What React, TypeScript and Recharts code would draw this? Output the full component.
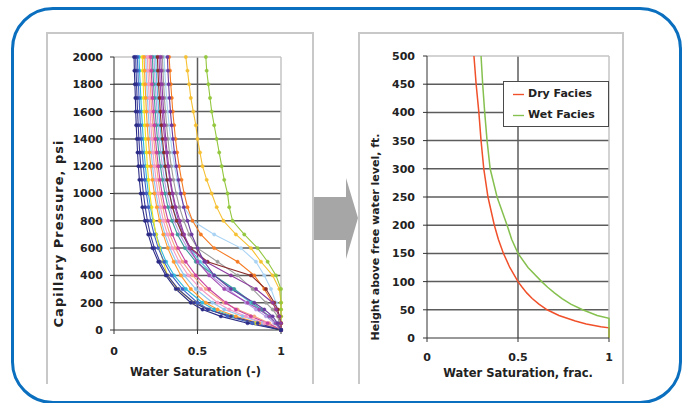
import React from "react";
import {
  LineChart,
  Line,
  XAxis,
  YAxis,
  CartesianGrid,
  ReferenceLine,
  Legend,
  Label,
} from "recharts";

const FONT = "'DejaVu Sans', 'Liberation Sans', sans-serif";
const INK = "#222222";
const GRID = "#5c5c5c";
const EDGE = "#c4c4c4";

// capillary pressure steps shared by every core plug (psi)
const PC_STEPS = [2000, 1900, 1800, 1700, 1600, 1500, 1400, 1300, 1200, 1100, 1000, 900, 800, 700, 600, 500, 400, 300, 200, 150, 100, 50, 0];

// water saturation of each plug at the steps above
const SW_CORE_01 = [0.12, 0.122, 0.125, 0.128, 0.13, 0.133, 0.137, 0.141, 0.146, 0.152, 0.16, 0.17, 0.185, 0.205, 0.23, 0.265, 0.31, 0.37, 0.46, 0.53, 0.64, 0.8, 1.0];
const SW_CORE_02 = [0.14, 0.143, 0.146, 0.15, 0.154, 0.158, 0.163, 0.169, 0.176, 0.184, 0.194, 0.206, 0.22, 0.24, 0.265, 0.3, 0.345, 0.41, 0.5, 0.57, 0.68, 0.83, 1.0];
const SW_CORE_03 = [0.15, 0.153, 0.157, 0.161, 0.165, 0.17, 0.175, 0.181, 0.188, 0.196, 0.206, 0.218, 0.233, 0.252, 0.278, 0.312, 0.36, 0.43, 0.53, 0.6, 0.71, 0.85, 1.0];
const SW_CORE_04 = [0.17, 0.172, 0.175, 0.178, 0.181, 0.185, 0.19, 0.195, 0.2, 0.207, 0.215, 0.225, 0.237, 0.252, 0.272, 0.295, 0.32, 0.38, 0.48, 0.57, 0.7, 0.85, 1.0];
const SW_CORE_05 = [0.18, 0.183, 0.186, 0.19, 0.194, 0.199, 0.205, 0.212, 0.22, 0.23, 0.242, 0.256, 0.273, 0.295, 0.322, 0.357, 0.4, 0.46, 0.55, 0.62, 0.73, 0.87, 1.0];
const SW_CORE_06 = [0.19, 0.193, 0.196, 0.2, 0.205, 0.21, 0.216, 0.223, 0.231, 0.24, 0.252, 0.266, 0.283, 0.305, 0.334, 0.372, 0.42, 0.49, 0.59, 0.66, 0.77, 0.89, 1.0];
const SW_CORE_07 = [0.2, 0.203, 0.207, 0.211, 0.216, 0.221, 0.227, 0.234, 0.242, 0.252, 0.264, 0.278, 0.296, 0.32, 0.35, 0.39, 0.445, 0.52, 0.62, 0.69, 0.79, 0.9, 1.0];
const SW_CORE_08 = [0.13, 0.132, 0.135, 0.138, 0.141, 0.145, 0.149, 0.154, 0.16, 0.167, 0.176, 0.187, 0.2, 0.218, 0.242, 0.275, 0.32, 0.385, 0.48, 0.56, 0.7, 0.86, 1.0];
const SW_CORE_09 = [0.22, 0.223, 0.227, 0.231, 0.236, 0.242, 0.248, 0.256, 0.265, 0.275, 0.288, 0.304, 0.324, 0.35, 0.384, 0.43, 0.49, 0.57, 0.67, 0.73, 0.82, 0.92, 1.0];
const SW_CORE_10 = [0.23, 0.233, 0.237, 0.242, 0.247, 0.253, 0.26, 0.268, 0.278, 0.29, 0.305, 0.323, 0.347, 0.38, 0.425, 0.49, 0.6, 0.72, 0.83, 0.88, 0.93, 0.97, 1.0];
const SW_CORE_11 = [0.24, 0.243, 0.247, 0.252, 0.258, 0.264, 0.271, 0.28, 0.29, 0.302, 0.317, 0.336, 0.36, 0.395, 0.44, 0.5, 0.58, 0.68, 0.79, 0.85, 0.91, 0.96, 1.0];
const SW_CORE_12 = [0.21, 0.213, 0.217, 0.221, 0.226, 0.232, 0.238, 0.246, 0.255, 0.265, 0.277, 0.292, 0.31, 0.335, 0.368, 0.41, 0.47, 0.55, 0.66, 0.74, 0.84, 0.93, 1.0];
const SW_CORE_13 = [0.26, 0.263, 0.267, 0.272, 0.277, 0.283, 0.29, 0.298, 0.307, 0.318, 0.332, 0.35, 0.375, 0.41, 0.46, 0.56, 0.82, 0.91, 0.96, 0.98, 0.99, 1.0, 1.0];
const SW_CORE_14 = [0.28, 0.283, 0.287, 0.292, 0.297, 0.303, 0.31, 0.318, 0.327, 0.338, 0.352, 0.37, 0.395, 0.42, 0.455, 0.55, 0.7, 0.85, 0.95, 0.97, 0.99, 1.0, 1.0];
const SW_CORE_15 = [0.29, 0.293, 0.297, 0.302, 0.308, 0.315, 0.323, 0.332, 0.343, 0.356, 0.372, 0.392, 0.418, 0.45, 0.5, 0.62, 0.74, 0.83, 0.91, 0.95, 0.98, 0.99, 1.0];
const SW_CORE_16 = [0.33, 0.335, 0.34, 0.346, 0.352, 0.36, 0.368, 0.378, 0.39, 0.404, 0.42, 0.44, 0.47, 0.52, 0.6, 0.74, 0.84, 0.9, 0.95, 0.97, 0.99, 1.0, 1.0];
const SW_CORE_17 = [0.3, 0.304, 0.309, 0.315, 0.322, 0.33, 0.339, 0.35, 0.363, 0.378, 0.396, 0.42, 0.47, 0.6, 0.76, 0.85, 0.9, 0.94, 0.97, 0.98, 0.99, 1.0, 1.0];
const SW_CORE_18 = [0.32, 0.323, 0.327, 0.332, 0.338, 0.345, 0.353, 0.362, 0.373, 0.386, 0.4, 0.418, 0.44, 0.465, 0.5, 0.54, 0.6, 0.7, 0.84, 0.9, 0.95, 0.98, 1.0];
const SW_CORE_19 = [0.25, 0.253, 0.257, 0.262, 0.268, 0.275, 0.283, 0.292, 0.303, 0.316, 0.332, 0.352, 0.378, 0.41, 0.455, 0.515, 0.6, 0.71, 0.82, 0.87, 0.93, 0.97, 1.0];
const SW_CORE_20 = [0.27, 0.273, 0.277, 0.282, 0.288, 0.295, 0.303, 0.312, 0.322, 0.334, 0.348, 0.365, 0.387, 0.415, 0.45, 0.5, 0.57, 0.66, 0.8, 0.87, 0.93, 0.97, 1.0];
const SW_CORE_21 = [0.43, 0.44, 0.45, 0.46, 0.475, 0.49, 0.5, 0.515, 0.53, 0.555, 0.585, 0.615, 0.655, 0.73, 0.82, 0.88, 0.95, 0.99, 1.0, 1.0, 1.0, 1.0, 1.0];
const SW_CORE_22 = [0.55, 0.555, 0.565, 0.575, 0.585, 0.6, 0.615, 0.63, 0.645, 0.66, 0.68, 0.69, 0.71, 0.78, 0.86, 0.92, 0.97, 1.0, 1.0, 1.0, 1.0, 1.0, 1.0];

const CORES = [
  { id: "c17", color: "#a9d3f4", sw: SW_CORE_17 },
  { id: "c06", color: "#8fc6ee", sw: SW_CORE_06 },
  { id: "c12", color: "#f4a582", sw: SW_CORE_12 },
  { id: "c07", color: "#f49ac6", sw: SW_CORE_07 },
  { id: "c11", color: "#b79be4", sw: SW_CORE_11 },
  { id: "c15", color: "#9b9b9b", sw: SW_CORE_15 },
  { id: "c19", color: "#56c2e0", sw: SW_CORE_19 },
  { id: "c10", color: "#3d9c9c", sw: SW_CORE_10 },
  { id: "c21", color: "#f6c033", sw: SW_CORE_21 },
  { id: "c22", color: "#93c73d", sw: SW_CORE_22 },
  { id: "c03", color: "#2fb9dc", sw: SW_CORE_03 },
  { id: "c04", color: "#f2e21c", sw: SW_CORE_04 },
  { id: "c09", color: "#c8429f", sw: SW_CORE_09 },
  { id: "c20", color: "#a04ab0", sw: SW_CORE_20 },
  { id: "c05", color: "#ff9b30", sw: SW_CORE_05 },
  { id: "c16", color: "#f57a22", sw: SW_CORE_16 },
  { id: "c13", color: "#8a2b2b", sw: SW_CORE_13 },
  { id: "c14", color: "#8d3b9f", sw: SW_CORE_14 },
  { id: "c18", color: "#6a3aa0", sw: SW_CORE_18 },
  { id: "c02", color: "#4062c4", sw: SW_CORE_02 },
  { id: "c08", color: "#3a3a9a", sw: SW_CORE_08 },
  { id: "c01", color: "#2b2b86", sw: SW_CORE_01 },
];

const PC_TICKS = [0, 200, 400, 600, 800, 1000, 1200, 1400, 1600, 1800, 2000];
const PC_GRID = [200, 400, 600, 800, 1000, 1200, 1400, 1600, 1800];
const PC_MINOR = [50, 100, 150, 250, 300, 350, 450, 500, 550, 650, 700, 750, 850, 900, 950, 1050, 1100, 1150, 1250, 1300, 1350, 1450, 1500, 1550, 1650, 1700, 1750, 1850, 1900, 1950];
const SW_TICKS = [0, 0.5, 1];
const SW_MINOR = [0.1, 0.2, 0.3, 0.4, 0.6, 0.7, 0.8, 0.9];

// saturation-height functions
const DRY_HEIGHT = [500, 450, 400, 350, 300, 250, 200, 175, 150, 125, 100, 90, 80, 70, 60, 50, 40, 30, 25, 20, 18, 0];
const DRY_SW = [0.258, 0.27, 0.285, 0.297, 0.312, 0.335, 0.37, 0.392, 0.42, 0.455, 0.5, 0.523, 0.548, 0.578, 0.615, 0.66, 0.725, 0.815, 0.875, 0.955, 1.0, 1.0];
const WET_HEIGHT = [500, 450, 400, 350, 300, 250, 200, 175, 150, 125, 100, 90, 80, 70, 60, 50, 40, 35, 0];
const WET_SW = [0.297, 0.306, 0.317, 0.33, 0.347, 0.385, 0.44, 0.465, 0.5, 0.555, 0.63, 0.663, 0.7, 0.742, 0.79, 0.855, 0.935, 1.0, 1.0];
const HEIGHT_TICKS = [0, 50, 100, 150, 200, 250, 300, 350, 400, 450, 500];
const HEIGHT_GRID = [50, 100, 150, 200, 250, 300, 350, 400, 450];

const tickStyle = { fill: INK, fontSize: 11, fontWeight: 700, fontFamily: FONT };

function pairs(sw: number[], y: number[], key: string) {
  return sw.map((s, i) => ({ sw: s, [key]: y[i] }));
}

// axis titles, placed relative to the axis box recharts hands us
const xTitle = (text: string, drop: number, shift = 0) => (props: any) => {
  const vb = props.viewBox || { x: 0, y: 0, width: 0, height: 0 };
  const cx = vb.x + vb.width / 2 + shift;
  const cy = vb.y + drop;
  return (
    <text x={cx} y={cy} textAnchor="middle" dominantBaseline="central" fill={INK}
      style={{ fontSize: 11.5, fontWeight: 700, fontFamily: FONT }}>
      {text}
    </text>
  );
};

const yTitle = (text: string, back: number, down: number, size: number, spacing = 0) => (props: any) => {
  const vb = props.viewBox || { x: 0, y: 0, width: 0, height: 0 };
  const cx = vb.x + vb.width - back;
  const cy = vb.y + vb.height / 2 + down;
  return (
    <text x={cx} y={cy} textAnchor="middle" dominantBaseline="central" fill={INK}
      transform={`rotate(-90 ${cx} ${cy})`}
      style={{ fontSize: size, fontWeight: 700, fontFamily: FONT, letterSpacing: spacing }}>
      {text}
    </text>
  );
};

function CapillaryChart() {
  return (
    <LineChart width={266} height={350} margin={{ top: 24, right: 32, bottom: 8, left: 0 }}>
      <CartesianGrid horizontalValues={PC_GRID} verticalValues={[0.5]} stroke={GRID} strokeWidth={1.5} />
      <ReferenceLine y={2000} stroke={EDGE} strokeWidth={1.5} />
      <ReferenceLine x={1} stroke={EDGE} strokeWidth={1.5} />
      <XAxis type="number" dataKey="sw" domain={[0, 1]} ticks={SW_TICKS} interval={0}
        height={45} tickSize={4} tickMargin={13} stroke="#333" tick={tickStyle}>
        <Label content={xTitle("Water Saturation (-)", 42, -2)} />
      </XAxis>
      <XAxis xAxisId="minor" type="number" dataKey="sw" domain={[0, 1]} ticks={SW_MINOR} interval={0}
        mirror height={1} tick={false} axisLine={false} tickSize={3} stroke="#555" />
      <YAxis type="number" dataKey="pc" domain={[0, 2000]} ticks={PC_TICKS} interval={0}
        width={67} tickSize={4} tickMargin={7} stroke="#333" tick={tickStyle}>
        <Label content={yTitle("Capillary Pressure, psi", 56, 40, 13, 1)} />
      </YAxis>
      <YAxis yAxisId="minor" type="number" domain={[0, 2000]} ticks={PC_MINOR} interval={0}
        mirror width={1} tick={false} axisLine={false} tickSize={3} stroke="#555" />
      {CORES.map((c) => (
        <Line key={c.id} data={pairs(c.sw, PC_STEPS, "pc")} dataKey="pc" type="linear"
          stroke={c.color} strokeWidth={1.1}
          dot={{ r: 1.7, fill: c.color, stroke: c.color, strokeWidth: 0.4 }}
          activeDot={false} isAnimationActive={false} />
      ))}
    </LineChart>
  );
}

function HeightChart() {
  return (
    <LineChart width={264} height={350} margin={{ top: 23, right: 14, bottom: 8, left: 0 }}>
      <CartesianGrid horizontalValues={HEIGHT_GRID} verticalValues={[0.5]} stroke={GRID} strokeWidth={1.5} />
      <ReferenceLine y={500} stroke={EDGE} strokeWidth={1.5} />
      <ReferenceLine x={1} stroke={EDGE} strokeWidth={1.5} />
      <XAxis type="number" dataKey="sw" domain={[0, 1]} ticks={SW_TICKS} interval={0}
        height={37} tickSize={4} tickMargin={11} stroke="#333" tick={tickStyle}>
        <Label content={xTitle("Water Saturation, frac.", 35)} />
      </XAxis>
      <YAxis type="number" dataKey="h" domain={[0, 500]} ticks={HEIGHT_TICKS} interval={0}
        width={68} tickSize={4} tickMargin={8} stroke="#333" tick={tickStyle}>
        <Label content={yTitle("Height above free water level, ft.", 52, 40, 11)} />
      </YAxis>
      <Legend layout="vertical" align="center" verticalAlign="middle" iconType="plainline" iconSize={11}
        wrapperStyle={{
          left: 144, top: 48, width: 106, height: 46, border: "1px solid #4a4a4a", background: "#fff",
          boxSizing: "border-box", padding: "1px 0 0 9px", fontSize: 11, fontWeight: 700,
          lineHeight: "21px", fontFamily: FONT,
        }}
        formatter={(v: string) => <span style={{ color: INK }}>{v}</span>} />
      <Line name="Dry Facies" data={pairs(DRY_SW, DRY_HEIGHT, "h")} dataKey="h" type="linear"
        stroke="#f0502a" strokeWidth={1.5} dot={false} activeDot={false} isAnimationActive={false} />
      <Line name="Wet Facies" data={pairs(WET_SW, WET_HEIGHT, "h")} dataKey="h" type="linear"
        stroke="#86c04f" strokeWidth={1.5} dot={false} activeDot={false} isAnimationActive={false} />
    </LineChart>
  );
}

export default function App() {
  const panel = { position: "absolute" as const, top: 32, height: 352, borderTop: "2px solid #c8c8c8", borderLeft: "2px solid #c8c8c8", borderRight: "2px solid #c8c8c8", boxSizing: "border-box" as const };
  return (
    <div style={{ position: "absolute", left: 0, top: 0, width: 687, height: 403, overflow: "hidden", background: "#fff", fontFamily: FONT }}>
      <div style={{ position: "absolute", left: 11, top: 7, width: 671, height: 397, border: "3px solid #0a6fbe", borderRadius: 42, boxSizing: "border-box" }} />
      <div style={{ ...panel, left: 46, width: 268 }} />
      <div style={{ ...panel, left: 358, width: 266 }} />
      <svg style={{ position: "absolute", left: 0, top: 0 }} width={687} height={403}>
        <polygon points="314,197 346,197 346,178 358,218 346,259 346,240 314,240" fill="#a6a6a6" />
      </svg>
      <div style={{ position: "absolute", left: 47, top: 33 }}>
        <CapillaryChart />
      </div>
      <div style={{ position: "absolute", left: 359, top: 33 }}>
        <HeightChart />
      </div>
    </div>
  );
}
